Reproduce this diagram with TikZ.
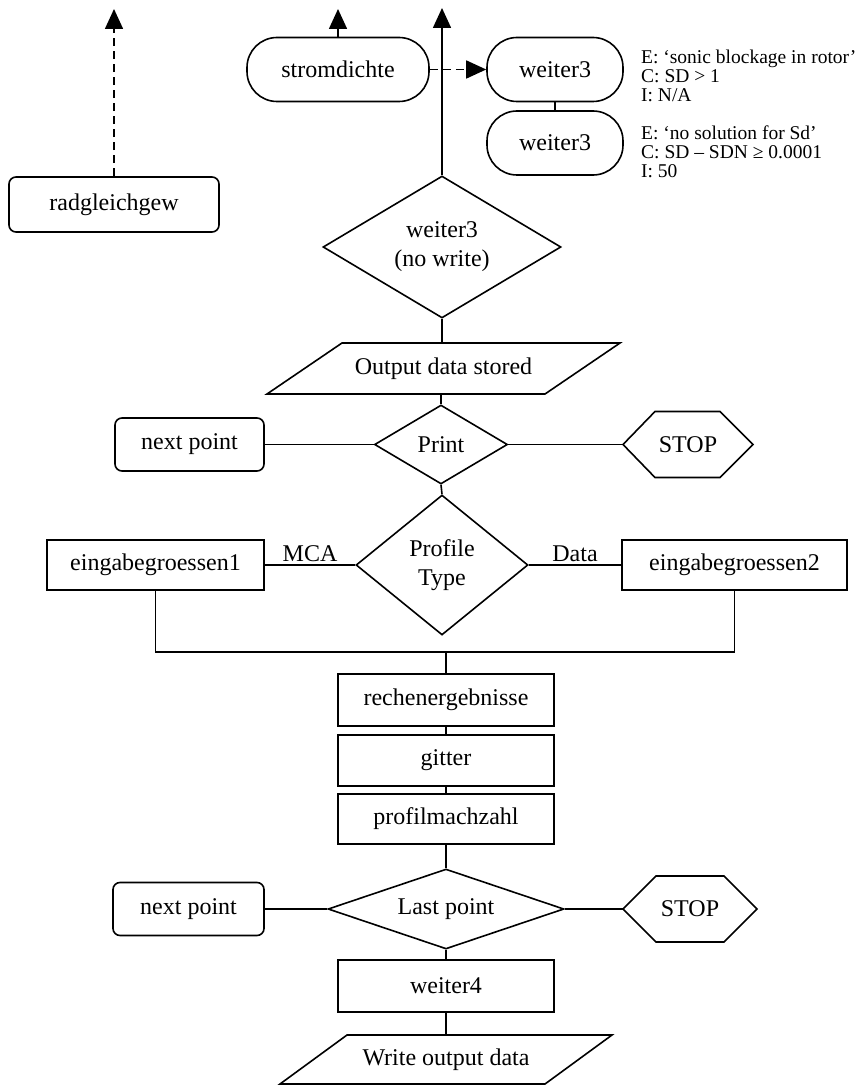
\documentclass[tikz,border=0pt]{standalone}
\usepackage{fontspec}
\setmainfont{Liberation Serif}
\usetikzlibrary{shapes.geometric,arrows.meta,calc}
\begin{document}
\begin{tikzpicture}[x=1pt,y=-1pt,
  every node/.style={font=\fontsize{24}{29}\selectfont},
  base/.style={draw, line width=1.6pt, inner sep=0pt, align=center},
  rbox/.style={base, rectangle, rounded corners=7pt},
  pill/.style={base, rectangle, rounded corners=30pt},
  sbox/.style={base, rectangle},
  dia/.style={base, diamond},
  ghost/.style={inner sep=0pt, outer sep=0pt, align=center},
  conn/.style={line width=1.6pt},
  arrowtip/.style={-{Triangle[length=20pt,width=18pt]}},
  dsh/.style={dash pattern=on 8pt off 5pt},
  note/.style={inner sep=0pt, anchor=west, align=left, font=\fontsize{19.5}{19}\selectfont}
]
\useasboundingbox (0,0) rectangle (862,1086);

% top area
\node (rad) [rbox, minimum width=210pt, minimum height=55pt] at (114,204.5) {radgleichgew};
\coordinate (radtop) at (114,9);
\node (strom) [pill, minimum width=182pt, minimum height=64pt] at (338,69.5) {stromdichte};
\coordinate (strtop) at (338,9);
\node (w3a) [pill, minimum width=136pt, minimum height=64pt] at (555,69.5) {weiter3};
\node (w3b) [pill, minimum width=136pt, minimum height=64pt] at (555,143) {weiter3};
\node (n1) [note] at (641,76) {E: ‘sonic blockage in rotor’\\C: SD > 1\\I: N/A};
\node (n2) [note] at (641,152) {E: ‘no solution for Sd’\\C: SD – SDN ≥ 0.0001\\I: 50};

\node (w3d) [dia, minimum width=238pt, minimum height=142pt, aspect=1.68] at (442,247) {weiter3\\(no write)};
\coordinate (maintop) at (442,8);

% output data stored
\node (out) [ghost, minimum width=353pt, minimum height=51pt] at (443.5,368.5) {Output data stored};
\draw[conn] (out.south west) -- ($(out.south east)+(-75,0)$) -- (out.north east) -- ($(out.north west)+(75,0)$) -- cycle;

% print row
\node (print) [dia, minimum width=133pt, minimum height=79pt, aspect=1.68] at (441,444.5) {Print};
\node (np1) [rbox, minimum width=149pt, minimum height=53pt] at (189.5,444.5) {next point};
\node (stop1) [ghost, minimum width=130pt, minimum height=66pt] at (688,444.5) {STOP};
\draw[conn] (stop1.west) -- ($(stop1.north west)+(32,0)$) -- ($(stop1.north east)+(-33,0)$) -- (stop1.east) -- ($(stop1.south east)+(-33,0)$) -- ($(stop1.south west)+(32,0)$) -- cycle;

% profile row
\node (prof) [dia, minimum width=172pt, minimum height=140pt, aspect=1.23] at (442,565) {Profile\\Type};
\node (e1) [sbox, minimum width=217pt, minimum height=50pt] at (155.5,565) {eingabegroessen1};
\node (e2) [sbox, minimum width=225pt, minimum height=50pt] at (734.5,565) {eingabegroessen2};
\coordinate (mj) at (446,652);

% column
\node (rech) [sbox, minimum width=216pt, minimum height=52pt] at (446,700) {rechenergebnisse};
\node (git) [sbox, minimum width=216pt, minimum height=51pt] at (446,760.5) {gitter};
\node (pmz) [sbox, minimum width=216pt, minimum height=50pt] at (446,819) {profilmachzahl};
\node (last) [dia, minimum width=236pt, minimum height=80pt, aspect=2.95] at (446,909) {Last point};
\node (np2) [rbox, minimum width=151pt, minimum height=53pt] at (188.5,909) {next point};
\node (stop2) [ghost, minimum width=134pt, minimum height=66pt] at (690,909) {STOP};
\draw[conn] (stop2.west) -- ($(stop2.north west)+(33,0)$) -- ($(stop2.north east)+(-33,0)$) -- (stop2.east) -- ($(stop2.south east)+(-33,0)$) -- ($(stop2.south west)+(33,0)$) -- cycle;
\node (w4) [sbox, minimum width=216pt, minimum height=52pt] at (446,986) {weiter4};
\node (wod) [ghost, minimum width=332pt, minimum height=49pt] at (446,1059.5) {Write output data};
\draw[conn] (wod.south west) -- ($(wod.south east)+(-67,0)$) -- (wod.north east) -- ($(wod.north west)+(67,0)$) -- cycle;

% connectors
\draw[conn, dsh, arrowtip] (rad.north) -- (radtop);
\draw[conn, arrowtip] (strom.north) -- (strtop);
\draw[conn, arrowtip] (w3d.north) -- (maintop);
\draw[conn, dsh, arrowtip] (strom.east) -- (w3a.west);
\draw[conn] (w3a.south) -- (w3b.north);
\draw[conn] (w3d.south) -- (w3d.south |- out.north);
\draw[conn] (print.north |- out.south) -- (print.north);
\draw[conn] (np1.east) -- (print.west);
\draw[conn] (print.east) -- (stop1.west);
\draw[conn] (print.south) -- (prof.north);
\draw[conn] (e1.east) -- node[above, inner sep=2pt] {MCA} (prof.west);
\draw[conn] (prof.east) -- node[above, inner sep=2pt] {Data} (e2.west);
\draw[conn] (e1.south) |- (mj) -| (e2.south);
\draw[conn] (mj) -- (rech.north);
\draw[conn] (rech.south) -- (git.north);
\draw[conn] (git.south) -- (pmz.north);
\draw[conn] (pmz.south) -- (last.north);
\draw[conn] (np2.east) -- (last.west);
\draw[conn] (last.east) -- (stop2.west);
\draw[conn] (last.south) -- (w4.north);
\draw[conn] (w4.south) -- (wod.north);
\end{tikzpicture}
\end{document}
